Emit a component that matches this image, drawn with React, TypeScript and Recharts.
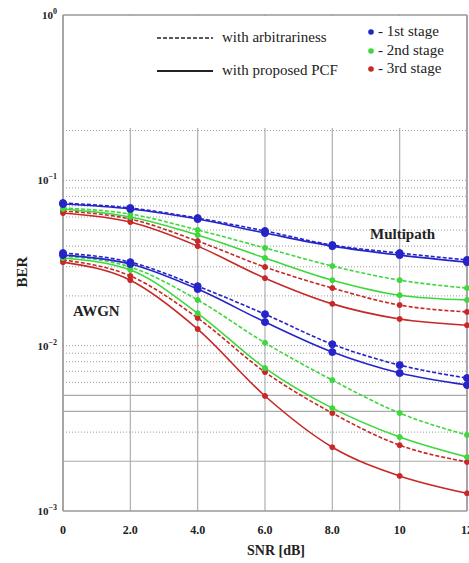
import React from 'react';
import { LineChart, Line, XAxis, YAxis, CartesianGrid, ReferenceLine } from 'recharts';

const snr = [0, 2, 4, 6, 8, 10, 12];
const xTickLabels = ['0', '2.0', '4.0', '6.0', '8.0', '10', '12'];
const yTicks = [1, 0.1, 0.01, 0.001];
const yTickExp = ['0', '−1', '−2', '−3'];
const minorGrid = [0.2, 0.09, 0.08, 0.07, 0.06, 0.05, 0.04, 0.03, 0.02, 0.1, 0.01, 0.009, 0.008, 0.007, 0.006, 0.003];
const solidGrid = [0.005, 0.004, 0.002];

// Multipath
const mp1Arb = [0.0729, 0.068, 0.0591, 0.0494, 0.0406, 0.0363, 0.033];
const mp1Pcf = [0.0719, 0.0671, 0.0583, 0.048, 0.04, 0.0353, 0.032];
const mp2Arb = [0.068, 0.0625, 0.0501, 0.039, 0.0303, 0.0249, 0.0223];
const mp2Pcf = [0.0671, 0.06, 0.0467, 0.0339, 0.0249, 0.0202, 0.0189];
const mp3Arb = [0.0652, 0.0583, 0.0429, 0.0299, 0.0223, 0.0176, 0.016];
const mp3Pcf = [0.0634, 0.0559, 0.04, 0.0256, 0.0179, 0.0145, 0.0133];
// AWGN
const aw1Arb = [0.0363, 0.032, 0.0229, 0.0155, 0.0102, 0.00763, 0.00637];
const aw1Pcf = [0.0353, 0.0312, 0.022, 0.0139, 0.00915, 0.00683, 0.00578];
const aw2Arb = [0.0348, 0.0299, 0.0189, 0.0104, 0.00619, 0.00391, 0.00288];
const aw2Pcf = [0.0339, 0.0287, 0.0157, 0.00732, 0.00419, 0.0028, 0.00212];
const aw3Arb = [0.033, 0.0264, 0.0147, 0.00692, 0.00391, 0.0025, 0.00198];
const aw3Pcf = [0.032, 0.0249, 0.0126, 0.00496, 0.00243, 0.00163, 0.00128];

const BLUE = '#2424c8';
const GREEN = '#3cd83c';
const RED = '#c82828';

const data = snr.map((s, i) => ({
  snr: s,
  mp1a: mp1Arb[i], mp1p: mp1Pcf[i],
  mp2a: mp2Arb[i], mp2p: mp2Pcf[i],
  mp3a: mp3Arb[i], mp3p: mp3Pcf[i],
  aw1a: aw1Arb[i], aw1p: aw1Pcf[i],
  aw2a: aw2Arb[i], aw2p: aw2Pcf[i],
  aw3a: aw3Arb[i], aw3p: aw3Pcf[i],
}));

const series = [
  { key: 'mp3a', color: RED, dashed: true, r: 2.5 },
  { key: 'mp3p', color: RED, dashed: false, r: 2.5 },
  { key: 'mp2a', color: GREEN, dashed: true, r: 2.5 },
  { key: 'mp2p', color: GREEN, dashed: false, r: 2.5 },
  { key: 'mp1a', color: BLUE, dashed: true, r: 3.5 },
  { key: 'mp1p', color: BLUE, dashed: false, r: 3.5 },
  { key: 'aw3a', color: RED, dashed: true, r: 2.5 },
  { key: 'aw3p', color: RED, dashed: false, r: 2.5 },
  { key: 'aw2a', color: GREEN, dashed: true, r: 2.5 },
  { key: 'aw2p', color: GREEN, dashed: false, r: 2.5 },
  { key: 'aw1a', color: BLUE, dashed: true, r: 3.5 },
  { key: 'aw1p', color: BLUE, dashed: false, r: 3.5 },
];

const FONT = '"Liberation Serif", "DejaVu Serif", serif';

const YTick = (props: any) => {
  const { x, y, payload } = props;
  const idx = yTicks.indexOf(payload.value);
  return (
    <text x={x} y={y + 4} textAnchor="end" fontFamily={FONT} fontWeight="bold" fontSize={11} fill="#222">
      <tspan>10</tspan>
      <tspan dy={-5} fontSize={8}>{yTickExp[idx]}</tspan>
    </text>
  );
};

const XTick = (props: any) => {
  const { x, y, payload } = props;
  const idx = snr.indexOf(payload.value);
  return (
    <text x={x} y={y} dy="0.71em" textAnchor="middle" fontFamily={FONT} fontWeight="bold" fontSize={12} fill="#222">
      {xTickLabels[idx]}
    </text>
  );
};

export default function App() {
  return (
    <div style={{ position: 'absolute', left: 0, top: 0, width: 469, height: 563, overflow: 'hidden', background: '#fff' }}>
      <LineChart width={490} height={563} data={data} margin={{ top: 15, right: 23, bottom: 22, left: 0 }}>
        <CartesianGrid horizontal={false} vertical={true} stroke="#b0b0b0" strokeWidth={1.2} />
        {minorGrid.map((v) => (
          <ReferenceLine key={'m' + v} y={v} stroke="#9a9a9a" strokeDasharray="1 2" strokeWidth={1} />
        ))}
        {solidGrid.map((v) => (
          <ReferenceLine key={'s' + v} y={v} stroke="#aaaaaa" strokeWidth={1.2} />
        ))}
        <ReferenceLine y={1} stroke="#999" strokeWidth={1.5} />
        <ReferenceLine x={12} stroke="#999" strokeWidth={1.5} />
        <XAxis
          dataKey="snr"
          type="number"
          domain={[0, 12]}
          ticks={snr}
          height={30}
          tickLine={false}
          tickSize={6}
          tickMargin={8}
          axisLine={{ stroke: '#999', strokeWidth: 1.5 }}
          tick={<XTick />}
        />
        <YAxis
          scale="log"
          domain={[0.001, 1]}
          ticks={yTicks}
          allowDataOverflow
          width={63}
          tickLine={false}
          tickSize={6}
          tickMargin={0}
          axisLine={{ stroke: '#999', strokeWidth: 1.5 }}
          tick={<YTick />}
        />
        {series.map((s) => (
          <Line
            key={s.key}
            dataKey={s.key}
            type="monotone"
            stroke={s.color}
            strokeWidth={1.6}
            strokeDasharray={s.dashed ? '4 2' : undefined}
            dot={{ r: s.r, fill: s.color, stroke: s.color, strokeWidth: 1, strokeDasharray: '' }}
            isAnimationActive={false}
          />
        ))}
      </LineChart>

      {/* legend box */}
      <div style={{ position: 'absolute', left: 64, top: 16, width: 402, height: 112, background: '#fff', fontFamily: FONT }}>
        <svg width={402} height={112} style={{ position: 'absolute', left: 0, top: 0 }}>
          <line x1={93} x2={149} y1={22} y2={22} stroke="#222" strokeWidth={1.3} strokeDasharray="4 2" />
          <line x1={93} x2={149} y1={55} y2={55} stroke="#222" strokeWidth={2} />
          <circle cx={307} cy={16} r={2.8} fill={BLUE} />
          <circle cx={307} cy={35} r={2.8} fill={GREEN} />
          <circle cx={307} cy={53} r={2.8} fill={RED} />
        </svg>
        <div style={{ position: 'absolute', left: 158, top: 13, fontSize: 15, color: '#222', whiteSpace: 'nowrap' }}>with arbitrariness</div>
        <div style={{ position: 'absolute', left: 158, top: 46, fontSize: 15, color: '#222', whiteSpace: 'nowrap' }}>with proposed PCF</div>
        <div style={{ position: 'absolute', left: 314, top: 7, fontSize: 15, color: '#222', whiteSpace: 'nowrap' }}>- 1st stage</div>
        <div style={{ position: 'absolute', left: 314, top: 26, fontSize: 15, color: '#222', whiteSpace: 'nowrap' }}>- 2nd stage</div>
        <div style={{ position: 'absolute', left: 314, top: 44, fontSize: 15, color: '#222', whiteSpace: 'nowrap' }}>- 3rd stage</div>
      </div>

      {/* annotations */}
      <div style={{ position: 'absolute', left: 370, top: 226, fontFamily: FONT, fontWeight: 'bold', fontSize: 15, color: '#222' }}>Multipath</div>
      <div style={{ position: 'absolute', left: 73, top: 303, fontFamily: FONT, fontWeight: 'bold', fontSize: 15, color: '#222' }}>AWGN</div>

      {/* axis titles */}
      <div style={{ position: 'absolute', left: 247, top: 543, fontFamily: FONT, fontWeight: 'bold', fontSize: 14, color: '#222', whiteSpace: 'nowrap' }}>SNR [dB]</div>
      <div style={{ position: 'absolute', left: 22, top: 272, transform: 'translate(-50%, -50%) rotate(-90deg)', fontFamily: FONT, fontWeight: 'bold', fontSize: 15, color: '#222', whiteSpace: 'nowrap' }}>BER</div>
    </div>
  );
}
